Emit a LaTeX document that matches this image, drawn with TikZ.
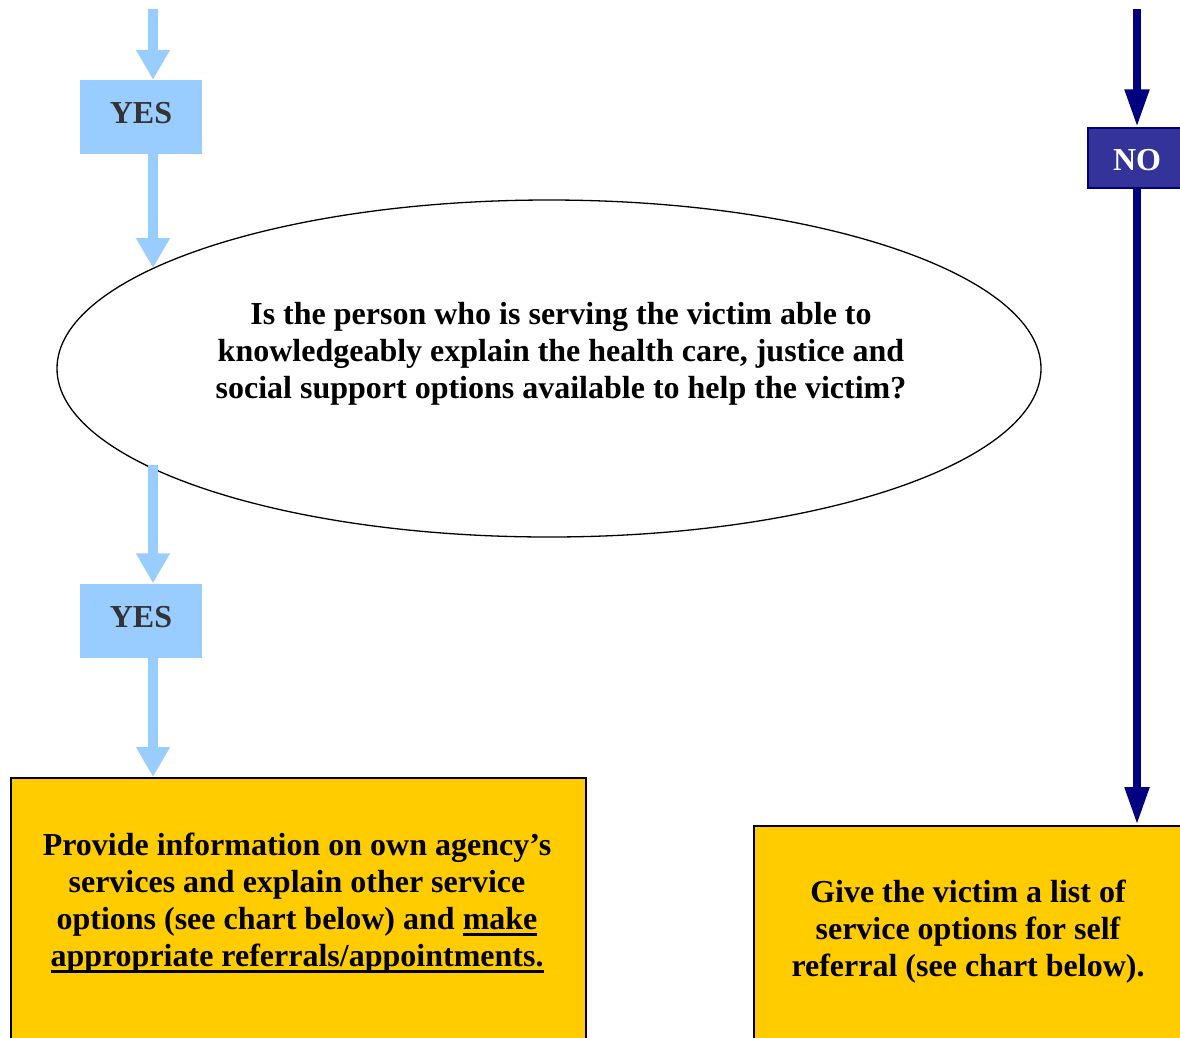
\documentclass[tikz,border=0pt]{standalone}
\usepackage{fontspec}
\setmainfont{Liberation Serif}
\usetikzlibrary{arrows.meta,shapes.geometric}
\definecolor{lightblue}{HTML}{99CCFF}
\definecolor{gold}{HTML}{FFCC00}
\definecolor{nobox}{HTML}{333399}
\definecolor{navyline}{HTML}{000080}
\definecolor{yestext}{HTML}{333333}
\newcommand\ulbar[1]{\setbox0\hbox{#1}\leavevmode\rlap{\rule[-6.5pt]{\wd0}{2.4pt}}\box0}
\tikzset{
  bigfont/.style={font=\fontsize{32}{37}\selectfont\bfseries},
  yesbox/.style={rectangle, fill=lightblue, minimum width=122pt, minimum height=74pt, inner sep=0pt,
    text height=15pt, text depth=2pt, text=yestext, bigfont},
  nobox/.style={rectangle, fill=nobox, draw=navyline, line width=1.5pt, minimum width=98pt, minimum height=60pt,
    inner sep=0pt, text=white, bigfont, text height=25pt, text depth=0pt},
  goldbox/.style={rectangle, fill=gold, draw=black, line width=2pt, inner sep=0pt, anchor=north west},
  question/.style={ellipse, draw=black, line width=1.3pt, fill=white, inner sep=0pt,
    minimum width=984pt, minimum height=337pt},
  txt/.style={align=center, bigfont, inner sep=0pt},
  lbarrow/.style={draw=lightblue, line width=10.6pt,
    -{Triangle[length=30pt,width=32pt]}, color=lightblue},
  navyarrow/.style={draw=navyline, line width=8pt,
    -{Triangle[length=38pt,width=23pt]}, color=navyline},
}
\begin{document}
\begin{tikzpicture}[x=1pt,y=-1pt]
\useasboundingbox (0,0) rectangle (1180,1037);
\clip (0,0) rectangle (1180,1037);
\fill[white] (0,0) rectangle (1180,1037);

% shapes
\node[question] (q) at (549,368.5) {};
\node[txt] (qtext) at (561,354) {Is the person who is serving the victim able to\\knowledgeably explain the health care, justice and\\social support options available to help the victim?};

\node[yesbox] (yes1) at (141,117) {YES};
\node[yesbox] (yes2) at (141,620.5) {YES};
\node[nobox] (no) at (1137,158) {NO};

\node[goldbox, minimum width=575pt, minimum height=300pt] (lbox) at (10,777) {};
\node[txt] (ltext) at (297,903) {Provide information on own agency’s\\services and explain other service\\options (see chart below) and \ulbar{make}\\\ulbar{appropriate referrals/appointments.}};

\node[goldbox, minimum width=460pt, minimum height=300pt] (rbox) at (753,825) {};
\node[txt] (rtext) at (968,932) {Give the victim a list of\\service options for self\\referral (see chart below).};

% coordinates for free ends
\coordinate (b0) at (153,9);
\coordinate (e1) at (153,268);
\coordinate (e2) at (153,465);
\coordinate (n0) at (1137,9);

% connectors
\draw[lbarrow] (b0) -- (b0 |- yes1.north);
\draw[lbarrow] (b0 |- yes1.south) -- (e1);
\draw[lbarrow] (e2) -- (e2 |- yes2.north);
\draw[lbarrow] (e2 |- yes2.south) -- (e2 |- lbox.north);

\draw[navyarrow] (n0) -- (n0 |- no.north);
\draw[navyarrow] (n0 |- no.south) -- (n0 |- rbox.north);
\end{tikzpicture}
\end{document}
